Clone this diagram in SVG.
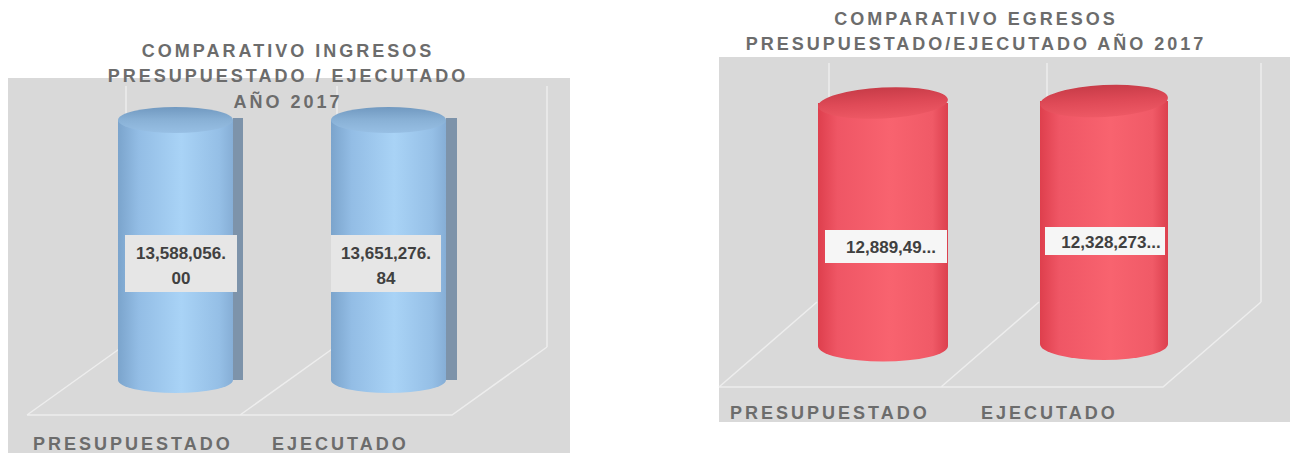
<svg xmlns="http://www.w3.org/2000/svg" width="1295" height="453" viewBox="0 0 1295 453">
<defs>
<linearGradient id="blueBody" x1="0" y1="0" x2="1" y2="0">
<stop offset="0" stop-color="#7ba4cc"/><stop offset="0.18" stop-color="#93bde5"/><stop offset="0.55" stop-color="#a9d3f6"/><stop offset="0.88" stop-color="#95bfe6"/><stop offset="1" stop-color="#86aed6"/>
</linearGradient>
<linearGradient id="blueTop" x1="0" y1="0" x2="0" y2="1">
<stop offset="0" stop-color="#7199c0"/><stop offset="0.5" stop-color="#89b1d6"/><stop offset="1" stop-color="#97bfe4"/>
</linearGradient>
<linearGradient id="redBody" x1="0" y1="0" x2="1" y2="0">
<stop offset="0" stop-color="#de3f4d"/><stop offset="0.15" stop-color="#ef5665"/><stop offset="0.55" stop-color="#f8636f"/><stop offset="0.88" stop-color="#f05a67"/><stop offset="1" stop-color="#dc404e"/>
</linearGradient>
<linearGradient id="redTop" x1="0" y1="0" x2="0" y2="1">
<stop offset="0" stop-color="#c83c48"/><stop offset="0.5" stop-color="#df4a57"/><stop offset="1" stop-color="#ee5965"/>
</linearGradient>
<style>
.panel{fill:#d9d9d9}
.grid{stroke:#ededed;stroke-width:1.5;fill:none}
.title{font-family:"Liberation Sans",Arial,sans-serif;font-size:18px;font-weight:bold;fill:#6c6c6c;letter-spacing:3px}
.cat{font-family:"Liberation Sans",Arial,sans-serif;font-size:18px;font-weight:bold;fill:#6c6c6c;letter-spacing:3px}
.val{font-family:"Liberation Sans",Arial,sans-serif;font-size:17px;font-weight:bold;fill:#404040;text-anchor:middle}
.boxL{fill:#e6e6e6}
.boxR{fill:#f6f6f6}
.strip{fill:#7d93aa}
</style>
</defs>
<rect width="1295" height="453" fill="#ffffff"/>

<g id="chart-ingresos">
<rect class="panel" x="8" y="78" width="562" height="375"/>
<g id="grid-ingresos">
<path class="grid" d="M126,86 V347 M337,86 V347 M547,86 V347 M27,415 H452 L547,347 M27,415 L122,347 M240,415 L335,347"/>
</g>
<text class="title" x="288" y="57" text-anchor="middle">COMPARATIVO INGRESOS</text>
<g id="bar-ing-presupuestado">
<rect class="strip" x="233" y="118" width="10" height="262"/>
<path d="M118,120 V380 A57.5,13 0 0 0 233,380 V120 Z" fill="url(#blueBody)"/>
<ellipse cx="175.5" cy="120" rx="57.5" ry="13" fill="url(#blueTop)"/>
<rect class="boxL" x="125" y="235" width="112" height="57"/>
<text class="val" x="181" y="259">13,588,056.</text>
<text class="val" x="181" y="284">00</text>
</g>
<g id="bar-ing-ejecutado">
<rect class="strip" x="446" y="118" width="11" height="262"/>
<path d="M331,120 V380 A57.5,13 0 0 0 446,380 V120 Z" fill="url(#blueBody)"/>
<ellipse cx="388.5" cy="120" rx="57.5" ry="13" fill="url(#blueTop)"/>
<rect class="boxL" x="331" y="235" width="110" height="57"/>
<text class="val" x="386" y="259">13,651,276.</text>
<text class="val" x="386" y="284">84</text>
</g>
<text class="title" x="288" y="82" text-anchor="middle">PRESUPUESTADO / EJECUTADO</text>
<text class="title" x="288" y="108" text-anchor="middle">AÑO 2017</text>
<text class="cat" x="33" y="450">PRESUPUESTADO</text>
<text class="cat" x="272" y="450">EJECUTADO</text>
</g>

<g id="chart-egresos">
<rect class="panel" x="719" y="57" width="571" height="365"/>
<g id="grid-egresos">
<path class="grid" d="M829,63 V302 M1047,63 V302 M1261,63 V302 M719,387 H1163 L1261,302 M719,387 L817,302 M941,387 L1039,302"/>
</g>
<text class="title" x="976" y="25" text-anchor="middle">COMPARATIVO EGRESOS</text>
<text class="title" x="976" y="50" text-anchor="middle">PRESUPUESTADO/EJECUTADO AÑO 2017</text>
<g id="bar-egr-presupuestado">
<path d="M818,103 V346 A65,15.5 0 0 0 948,346 V103 Z" fill="url(#redBody)"/>
<ellipse cx="883" cy="103" rx="65" ry="15.5" fill="url(#redTop)" transform="rotate(-3 883 103)"/>
<rect class="boxR" x="825" y="230" width="122" height="33"/>
<text class="val" x="891" y="253">12,889,49...</text>
</g>
<g id="bar-egr-ejecutado">
<path d="M1040,101 V344 A64,16 0 0 0 1168,344 V101 Z" fill="url(#redBody)"/>
<ellipse cx="1104" cy="101" rx="64" ry="16" fill="url(#redTop)" transform="rotate(-3 1104 101)"/>
<rect class="boxR" x="1045" y="227" width="120" height="28"/>
<text class="val" x="1111" y="248">12,328,273...</text>
</g>
<text class="cat" x="730" y="419">PRESUPUESTADO</text>
<text class="cat" x="981" y="419">EJECUTADO</text>
</g>
</svg>
